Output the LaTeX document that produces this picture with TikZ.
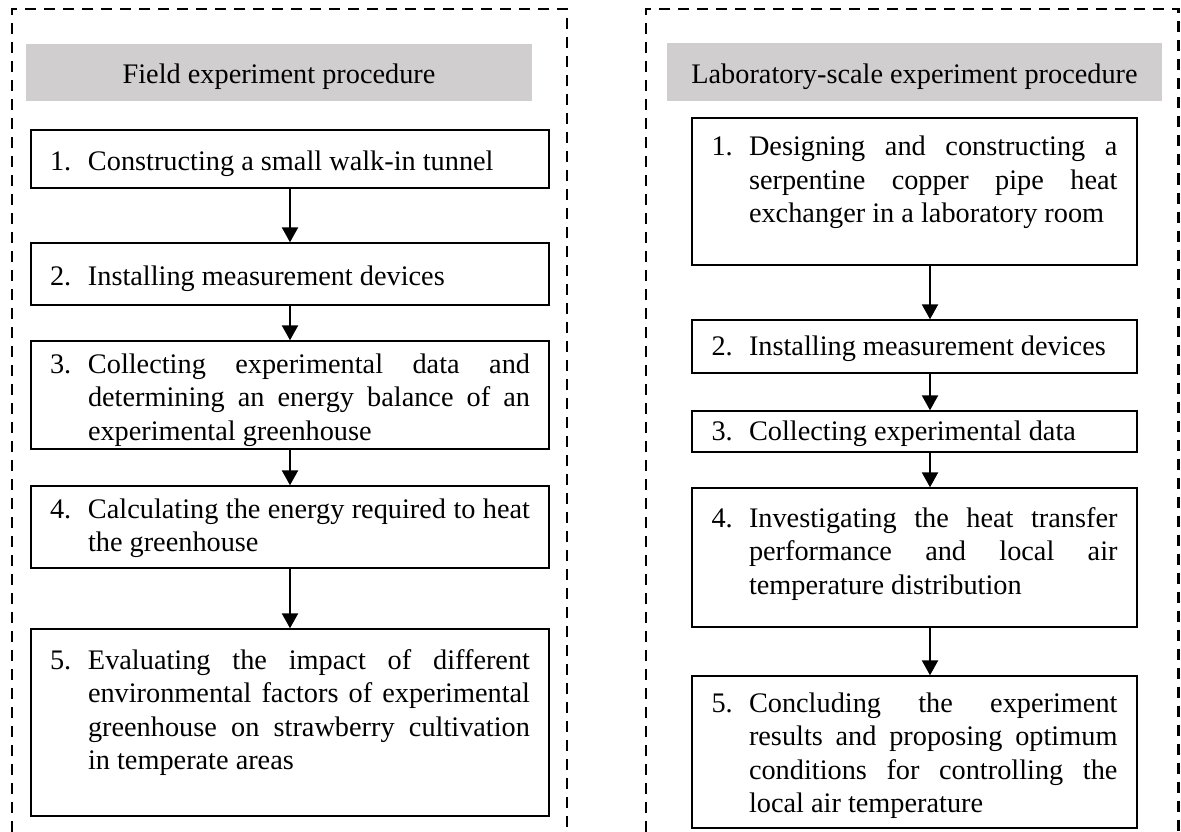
\documentclass[tikz,border=0pt]{standalone}
\usepackage{fontspec}
\setmainfont{Liberation Serif}
\usetikzlibrary{arrows.meta}
\definecolor{hdrgray}{RGB}{208,206,206}
\newcommand\stepitem[4]{\makebox[#1][l]{#2}\parbox[t]{#3}{\hyphenpenalty=10000\exhyphenpenalty=10000\hbadness=10000 #4}}
\begin{document}
\begin{tikzpicture}[x=1pt,y=-1pt,
  every node/.style={font=\fontsize{28.3pt}{33.5pt}\selectfont},
  panel/.style={line width=2.2pt, dash pattern=on 11pt off 8pt},
  header/.style={fill=hdrgray, inner sep=0pt},
  stepbox/.style={draw, line width=1.4pt, inner sep=0pt},
  arr/.style={line width=2.3pt, -{Triangle[length=15pt,width=16pt]}}]
\useasboundingbox (0,0) rectangle (1181,832);
% dashed panels
\draw[panel] (12,832) -- (12,9) -- (567,9) -- (567,832);
\draw[panel] (646,832) -- (646,9) -- (1178.5,9) -- (1178.5,832);
% headers
\node[header, minimum width=506pt, text height=39.5pt, text depth=17.5pt] (HL) at (279,72.5) {Field experiment procedure};
\node[header, minimum width=495pt, text height=40.5pt, text depth=17.5pt] (HR) at (914.5,72) {Laboratory-scale experiment procedure};
% left column
\node[stepbox, minimum width=518pt, text height=41pt, text depth=17pt] (L1) at (290,159) {\stepitem{38pt}{1.}{442pt}{Constructing a small walk-in tunnel}};
\node[stepbox, minimum width=518pt, text height=42pt, text depth=20pt] (L2) at (290,274) {\stepitem{38pt}{2.}{442pt}{Installing measurement devices}};
\node[stepbox, minimum width=518pt, text height=32pt, text depth=76pt] (L3) at (290,395) {\stepitem{38pt}{3.}{442pt}{Collecting experimental data and\linebreak determining an energy balance of an\linebreak experimental greenhouse}};
\node[stepbox, minimum width=518pt, text height=32pt, text depth=50pt] (L4) at (290,527) {\stepitem{38pt}{4.}{442pt}{Calculating the energy required to heat\linebreak the greenhouse}};
\node[stepbox, minimum width=518pt, text height=40pt, text depth=147pt] (L5) at (290,722.5) {\stepitem{38pt}{5.}{442pt}{Evaluating the impact of different\linebreak environmental factors of experimental\linebreak greenhouse on strawberry cultivation\linebreak in temperate areas}};
% right column
\node[stepbox, minimum width=445pt, text height=38pt, text depth=109pt] (R1) at (914.5,191.5) {\stepitem{37.5pt}{1.}{368.5pt}{Designing and constructing a\linebreak serpentine copper pipe heat\linebreak exchanger in a laboratory room}};
\node[stepbox, minimum width=445pt, text height=35pt, text depth=18pt] (R2) at (914.5,346.5) {\stepitem{37.5pt}{2.}{368.5pt}{Installing measurement devices}};
\node[stepbox, minimum width=445pt, text height=29pt, text depth=12pt] (R3) at (914.5,431.5) {\stepitem{37.5pt}{3.}{368.5pt}{Collecting experimental data}};
\node[stepbox, minimum width=445pt, text height=39pt, text depth=100pt] (R4) at (914.5,557.5) {\stepitem{37.5pt}{4.}{368.5pt}{Investigating the heat transfer\linebreak performance and local air\linebreak temperature distribution}};
\node[stepbox, minimum width=445pt, text height=36pt, text depth=116pt] (R5) at (914.5,752) {\stepitem{37.5pt}{5.}{368.5pt}{Concluding the experiment\linebreak results and proposing optimum\linebreak conditions for controlling the\linebreak local air temperature}};
% arrow axes
\coordinate (xl) at (290,0);
\coordinate (xr) at (930,0);
\foreach \a/\b in {L1/L2,L2/L3,L3/L4,L4/L5}
  \draw[arr] (\a.south -| xl) -- (\b.north -| xl);
\foreach \a/\b in {R1/R2,R2/R3,R3/R4,R4/R5}
  \draw[arr] (\a.south -| xr) -- (\b.north -| xr);
\end{tikzpicture}
\end{document}
